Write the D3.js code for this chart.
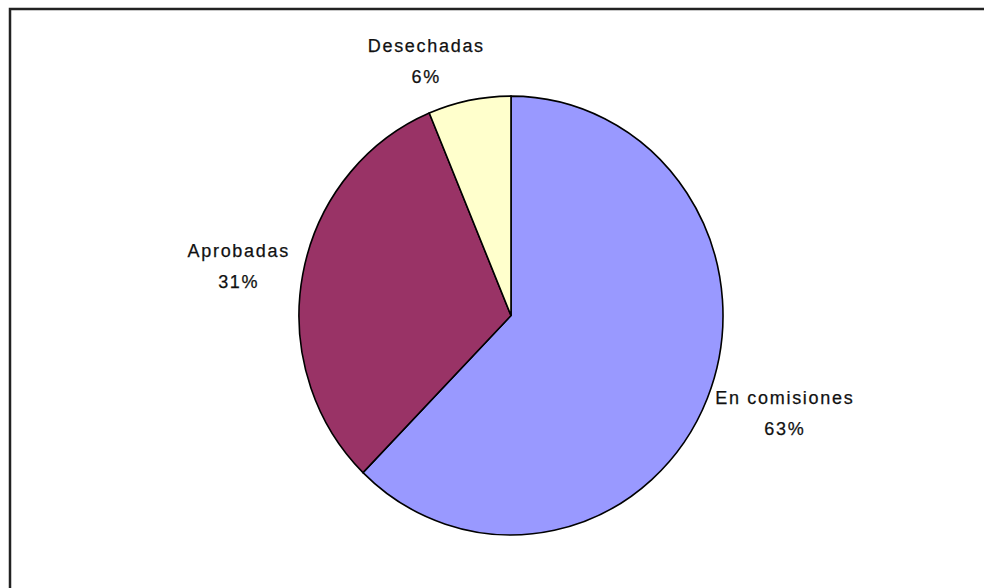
<!DOCTYPE html>
<html lang="es">
<head>
    <meta charset="UTF-8">
    <title>Estado de las iniciativas</title>
    <script src="https://d3js.org/d3.v7.min.js"></script>
    <style>
        body { margin: 0; background: #fff; }
        .frame { fill: none; stroke: #222; stroke-width: 2.5px; }
        .slice { stroke: #000; stroke-width: 1.6px; vector-effect: non-scaling-stroke; }
        .label text {
            font-family: "Liberation Sans", Arial, sans-serif;
            font-size: 18px;
            letter-spacing: 1.7px;
            fill: #111;
            stroke: #111;
            stroke-width: 0.25px;
        }
    </style>
</head>
<body>
    <div class="chart"></div>
    <script>
        const categories = ['En comisiones', 'Aprobadas', 'Desechadas'];
        const values = [62.3, 31.4, 6.3];
        const percentLabels = ['63%', '31%', '6%'];
        const colors = ['#9999ff', '#993366', '#ffffcc'];

        const width = 984;
        const height = 588;
        const cx = 511, cy = 315.5;
        const radius = 212;
        const squash = 1.035;   // pie is drawn slightly taller than wide

        const svg = d3.select('.chart').append('svg')
            .attr('width', width)
            .attr('height', height);

        svg.append('rect')
            .attr('class', 'frame')
            .attr('x', 10)
            .attr('y', 9)
            .attr('width', width + 40)
            .attr('height', height + 40);

        const pie = d3.pie().sort(null).value(d => d.value);
        const arcs = pie(categories.map((c, i) => ({ name: c, value: values[i], pct: percentLabels[i], color: colors[i] })));

        const arc = d3.arc().innerRadius(0).outerRadius(radius);

        const g = svg.append('g')
            .attr('transform', `translate(${cx}, ${cy}) scale(1, ${squash})`);

        g.selectAll('path')
            .data(arcs)
            .join('path')
            .attr('class', 'slice')
            .attr('fill', d => d.data.color)
            .attr('d', arc);

        // labels sit just outside the rim, pushed away along the mid angle
        const labelR = radius + 14;
        const lineGap = 31;
        const labels = svg.append('g').attr('class', 'label');

        arcs.forEach(d => {
            const a = (d.startAngle + d.endAngle) / 2;
            const s = Math.sin(a), c = Math.cos(a);
            const ax = cx + labelR * s;
            const ay = cy - labelR * c * squash;

            const t = labels.append('text').attr('text-anchor', 'middle');
            t.append('tspan').attr('x', 0).attr('dy', 0).text(d.data.name);
            t.append('tspan').attr('x', 0).attr('dy', lineGap).text(d.data.pct);

            const box = t.node().getBBox();
            // small slices near the top get pushed further sideways, as in the original
            const push = Math.abs(s) < 0.5 ? 3.5 : 1;
            const bx = ax + s * push * box.width / 2;
            const by = ay - c * box.height / 2;
            t.attr('transform', `translate(${bx}, ${by - box.y - box.height / 2})`);
        });
    </script>
</body>
</html>
